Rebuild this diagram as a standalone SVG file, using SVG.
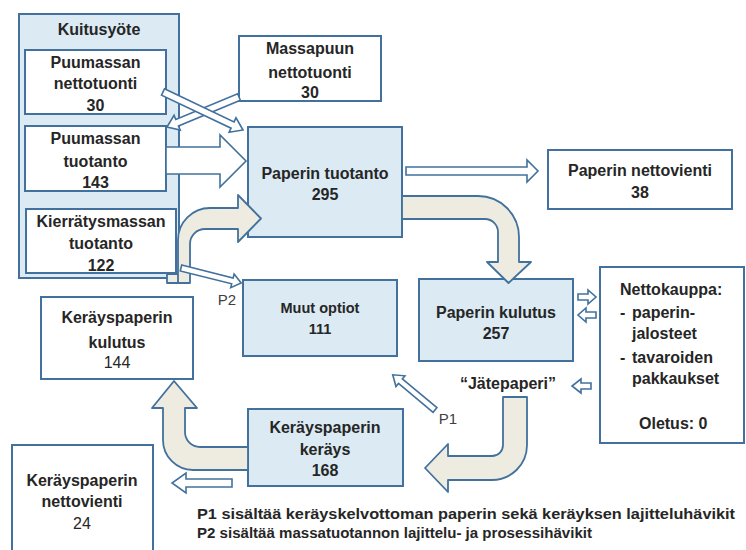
<svg xmlns="http://www.w3.org/2000/svg" width="746" height="550" viewBox="0 0 746 550">
<style>
.box{fill:#ffffff;stroke:#41719c;stroke-width:2}
.blue{fill:#dbeaf3;stroke:#41719c;stroke-width:2}
.beige{fill:#eeece1;stroke:#41719c;stroke-width:1.8;stroke-linejoin:round}
.hollow{fill:#ffffff;stroke:#41719c;stroke-width:1.6;stroke-linejoin:miter}
text{font-family:"Liberation Sans",Arial,sans-serif;font-size:16px;font-weight:bold;fill:#262626;text-anchor:middle}
.reg{font-weight:normal}
.lbl{font-weight:normal;fill:#404040;font-size:15px}
.left{text-anchor:start}
</style>
<rect width="746" height="550" fill="#ffffff"/>

<g id="kuitusyote">
<rect class="blue" x="19" y="14" width="160" height="264"/>
<text x="99" y="35">Kuitusyöte</text>
</g>

<g id="puumassan-nettotuonti">
<rect class="box" x="25" y="50" width="141" height="64"/>
<text x="95.5" y="68">Puumassan</text>
<text x="95.5" y="89">nettotuonti</text>
<text x="95.5" y="111">30</text>
</g>

<g id="puumassan-tuotanto">
<rect class="box" x="25" y="126" width="141" height="65"/>
<text x="95.5" y="144">Puumassan</text>
<text x="95.5" y="167">tuotanto</text>
<text x="95.5" y="188">143</text>
</g>

<g id="kierratysmassan-tuotanto">
<rect class="box" x="26" y="209" width="150" height="64"/>
<text x="101" y="227">Kierrätysmassan</text>
<text x="101" y="249">tuotanto</text>
<text x="101" y="271">122</text>
</g>

<g id="massapuun-nettotuonti">
<rect class="box" x="239" y="36" width="142" height="65"/>
<text x="310" y="54">Massapuun</text>
<text x="310" y="78">nettotuonti</text>
<text x="310" y="98">30</text>
</g>

<g id="paperin-tuotanto">
<rect class="blue" x="248" y="127" width="154" height="110"/>
<text x="325" y="179">Paperin tuotanto</text>
<text x="325" y="200">295</text>
</g>

<g id="paperin-nettovienti">
<rect class="box" x="548" y="150" width="184" height="59"/>
<text x="640" y="176">Paperin nettovienti</text>
<text x="640" y="198">38</text>
</g>

<g id="muut-optiot">
<rect class="blue" x="243" y="280" width="154" height="76"/>
<text x="320" y="313" style="font-size:14.5px">Muut optiot</text>
<text x="320" y="334" style="font-size:14.5px">111</text>
</g>

<g id="paperin-kulutus">
<rect class="blue" x="419" y="279" width="154" height="82"/>
<text x="496" y="318">Paperin kulutus</text>
<text x="496" y="339">257</text>
</g>

<g id="nettokauppa">
<rect class="box" x="600" y="267" width="144" height="176"/>
<text class="left" x="620" y="295">Nettokauppa:</text>
<text class="left" x="620" y="318">-</text>
<text class="left" x="632" y="318">paperin-</text>
<text class="left" x="632" y="339">jalosteet</text>
<text class="left" x="620" y="363">-</text>
<text class="left" x="632" y="363">tavaroiden</text>
<text class="left" x="632" y="384">pakkaukset</text>
<text class="left" x="639" y="429">Oletus: 0</text>
</g>

<g id="jatepaperi">
<text x="508" y="389">“Jätepaperi”</text>
</g>

<g id="kerayspaperin-kulutus">
<rect class="box" x="41" y="297" width="152" height="82"/>
<text x="117" y="323">Keräyspaperin</text>
<text x="117" y="348">kulutus</text>
<text class="reg" x="117" y="368">144</text>
</g>

<g id="kerayspaperin-kerays">
<rect class="blue" x="248" y="409" width="155" height="77"/>
<text x="325" y="433">Keräyspaperin</text>
<text x="325" y="455">keräys</text>
<text x="325" y="476">168</text>
</g>

<g id="kerayspaperin-nettovienti">
<rect class="box" x="12" y="445" width="141" height="120"/>
<text x="82" y="486">Keräyspaperin</text>
<text x="82" y="507">nettovienti</text>
<text class="reg" x="82" y="529">24</text>
</g>

<g id="connectors">
<rect class="beige" x="167" y="274" width="19" height="9"/>
<path class="beige" d="M178,283 L178,240 A32,32 0 0 1 210,208 L238,208 L238,195 L261,218.5 L238,242 L238,229 L205,229 A15,15 0 0 0 190,244 L190,283 Z"/>
<path class="beige" d="M402,196 L478,196 A41,41 0 0 1 519,237 L519,262 L531,262 L508.5,283 L487,262 L498,262 L498,232 A13,13 0 0 0 485,219 L402,219 Z"/>
<path class="beige" d="M503,397 L527,397 L527,445 A35,35 0 0 1 492,480 L448,480 L448,492 L425,468 L448,444 L448,456 L492,456 A11,11 0 0 0 503,445 Z"/>
<path class="beige" d="M248,447 L200,447 A15,15 0 0 1 185,432 L185,408 L197,408 L174,381 L152,408 L163,408 L163,440 A30,30 0 0 0 193,470 L248,470 Z"/>
<polygon class="hollow" points="166,147 220,147 220,135 246,161 220,187 220,174 166,174"/>
<polygon class="hollow" transform="translate(239,97) rotate(157.4)" points="0,-3.5 67,-3.5 67,-8 78,0 67,8 67,3.5 0,3.5"/>
<polygon class="hollow" transform="translate(163,92) rotate(25.4)" points="0,-3.5 77,-3.5 77,-8 88.6,0 77,8 77,3.5 0,3.5"/>
<polygon class="hollow" points="406,167 527,167 527,160 538,171 527,182 527,175 406,175"/>
<polygon class="hollow" transform="translate(181,268) rotate(14)" points="0,-3 53,-3 53,-7 62,0 53,7 53,3 0,3"/>
<polygon class="hollow" transform="translate(435,410) rotate(-140.2)" points="0,-3 45,-3 45,-7 55,0 45,7 45,3 0,3"/>
<polygon class="hollow" points="578,294 588,294 588,290 596,297 588,304 588,300 578,300"/>
<polygon class="hollow" points="596,312 586,312 586,308 578,315 586,322 586,318 596,318"/>
<polygon class="hollow" points="591,383 581,383 581,379 572,386 581,393 581,389 591,389"/>
<polygon class="hollow" points="232,479 186,479 186,473 172,483 186,493 186,487 232,487"/>
<text class="lbl" x="227" y="305">P2</text>
<text class="lbl" x="448" y="424">P1</text>
</g>

<g id="footnotes">
<text class="left" x="197" y="519" style="font-size:14.5px" textLength="538" lengthAdjust="spacingAndGlyphs">P1 sisältää keräyskelvottoman paperin sekä keräyksen lajitteluhävikit</text>
<text class="left" x="197" y="538" style="font-size:14.5px" textLength="395" lengthAdjust="spacingAndGlyphs">P2 sisältää massatuotannon lajittelu- ja prosessihävikit</text>
</g>
</svg>
